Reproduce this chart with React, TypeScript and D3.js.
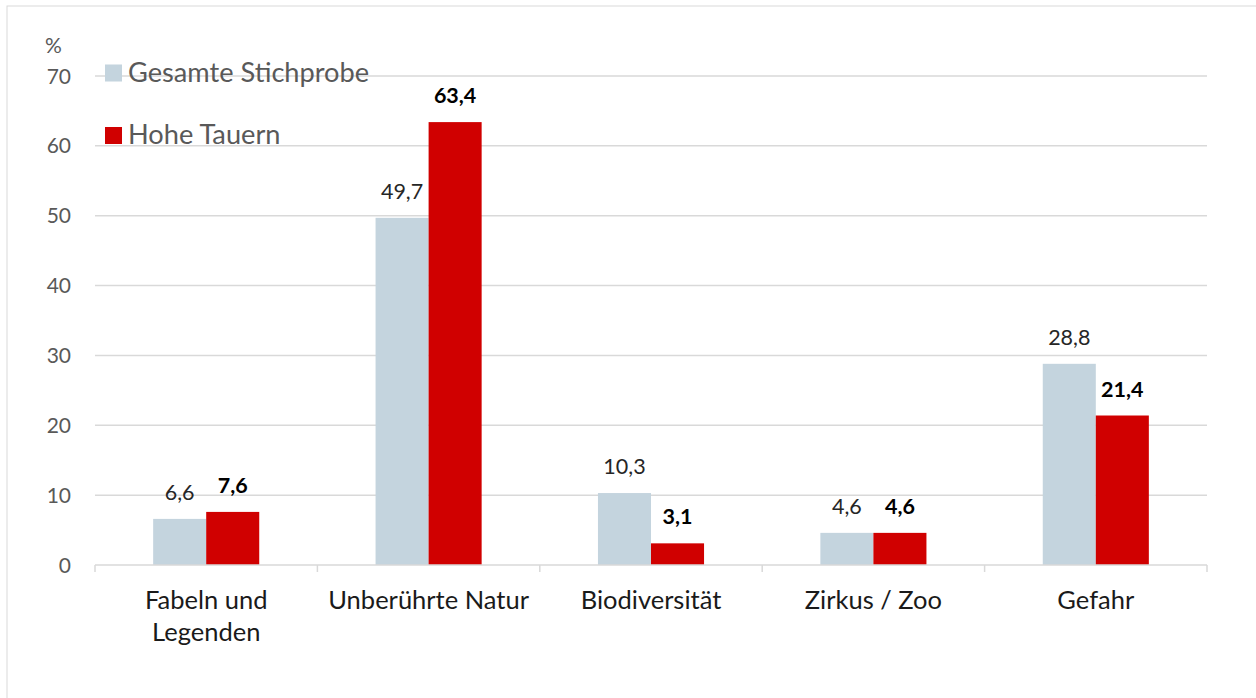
import React from "react";
import * as d3 from "d3";

const categories: string[][] = [
  ["Fabeln und", "Legenden"],
  ["Unberührte Natur"],
  ["Biodiversität"],
  ["Zirkus / Zoo"],
  ["Gefahr"],
];
const gesamt = [6.6, 49.7, 10.3, 4.6, 28.8];
const hoheTauern = [7.6, 63.4, 3.1, 4.6, 21.4];
const yTicks = [0, 10, 20, 30, 40, 50, 60, 70];
const seriesNames = ["Gesamte Stichprobe", "Hohe Tauern"];

const W = 1256;
const H = 698;
const FONT = "Lato, 'Open Sans', sans-serif";
const GRAY = "#c4d4de";
const RED = "#d00000";
const fmt = (v: number) => v.toFixed(1).replace(".", ",");

export default function App() {
  const x0 = d3
    .scaleBand<number>()
    .domain(categories.map((_, i) => i))
    .range([95, 1207])
    .paddingInner(0)
    .paddingOuter(0);
  const step = x0.step();
  const groupW = step * 0.477;
  const x1 = d3
    .scaleBand<number>()
    .domain([0, 1])
    .range([0, groupW])
    .padding(0);
  const y = d3.scaleLinear().domain([0, 70]).range([565, 76]);
  const series = [gesamt, hoheTauern];
  const colors = [GRAY, RED];

  return (
    <svg
      width={W}
      height={H}
      style={{ position: "absolute", left: 0, top: 0, background: "#fff" }}
      fontFamily={FONT}
    >
      <rect x={0} y={0} width={W} height={H} fill="#fff" />
      <rect x={7} y={6} width={W + 20} height={H + 20} fill="none" stroke="#d9d9d9" strokeWidth={1} />
      {/* gridlines */}
      {yTicks.filter((t) => t > 0).map((t) => (
        <line key={t} x1={95} x2={1207} y1={y(t)} y2={y(t)} stroke="#d9d9d9" strokeWidth={1.5} />
      ))}
      {/* y tick labels */}
      {yTicks.map((t) => (
        <text key={t} x={71} y={y(t) + 7.5} textAnchor="end" fontSize={21} fill="#595959">
          {t}
        </text>
      ))}
      <text x={45} y={53} fontSize={21} fill="#595959">%</text>
      {/* bars */}
      {categories.map((_, i) =>
        series.map((s, si) => {
          const bx = (x0(i) as number) + (step - groupW) / 2 + (x1(si) as number);
          return (
            <rect
              key={`${i}-${si}`}
              x={bx}
              y={y(s[i])}
              width={x1.bandwidth()}
              height={y(0) - y(s[i])}
              fill={colors[si]}
            />
          );
        })
      )}
      {/* data labels */}
      {categories.map((_, i) =>
        series.map((s, si) => {
          const bx = (x0(i) as number) + (step - groupW) / 2 + (x1(si) as number) + x1.bandwidth() / 2;
          return (
            <text
              key={`l${i}-${si}`}
              x={bx}
              y={y(s[i]) - 19}
              textAnchor="middle"
              fontSize={21.5}
              fontWeight={si === 1 ? 700 : 400}
              fill={si === 1 ? "#000" : "#262626"}
            >
              {fmt(s[i])}
            </text>
          );
        })
      )}
      {/* x axis */}
      <line x1={95} x2={1207} y1={y(0)} y2={y(0)} stroke="#d9d9d9" strokeWidth={1.5} />
      {d3.range(categories.length + 1).map((k) => {
        const tx = 95 + k * step;
        return <line key={k} x1={tx} x2={tx} y1={y(0)} y2={572} stroke="#d9d9d9" strokeWidth={1.5} />;
      })}
      {categories.map((lines, i) => (
        <text
          key={`c${i}`}
          x={(x0(i) as number) + step / 2}
          textAnchor="middle"
          fontSize={25.5}
          fill="#1a1a1a"
        >
          {lines.map((ln, li) => (
            <tspan key={li} x={(x0(i) as number) + step / 2} y={609 + li * 32}>
              {ln}
            </tspan>
          ))}
        </text>
      ))}
      {/* legend */}
      {seriesNames.map((n, si) => (
        <g key={n}>
          <rect x={105} y={64.5 + si * 62.5} width={17} height={17} fill={colors[si]} />
          <text x={128} y={81.5 + si * 62.5} fontSize={27.2} fill="#595959">
            {n}
          </text>
        </g>
      ))}
    </svg>
  );
}
